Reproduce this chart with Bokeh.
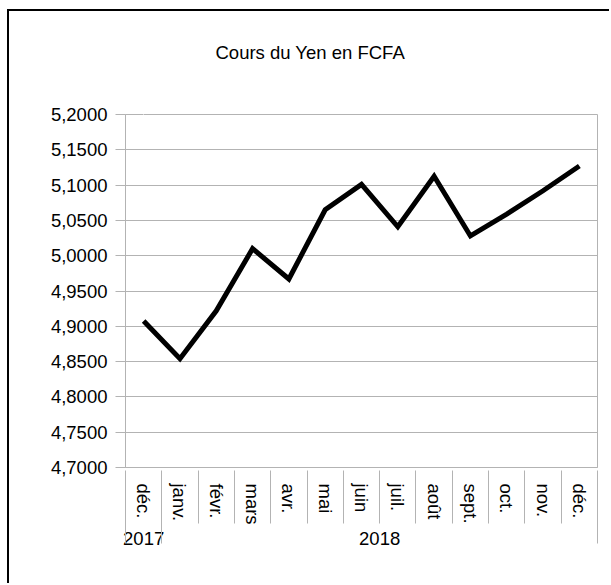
from bokeh.plotting import figure
from bokeh.models import (Range1d, FixedTicker, LinearAxis,
                          CustomJSTickFormatter, ColumnDataSource)
from bokeh.embed import file_html
from bokeh.resources import INLINE

TITLE = "Cours du Yen en FCFA"
MONTHS = ["déc.", "janv.", "févr.", "mars", "avr.", "mai", "juin",
          "juil.", "août", "sept.", "oct.", "nov.", "déc."]
YEARS = ["2017"] + ["2018"] * 12
VALUES = [4.9075, 4.8540, 4.9220, 5.0100, 4.9670, 5.0650, 5.1010,
          5.0410, 5.1125, 5.0280, 5.0590, 5.0920, 5.1270]
Y_TICKS = [4.70, 4.75, 4.80, 4.85, 4.90, 4.95, 5.00, 5.05, 5.10, 5.15, 5.20]

FONT = "Liberation Sans"
FS = "18.5px"
GRAY = "#b3b3b3"

n = len(MONTHS)
centers = [i + 0.5 for i in range(n)]

# year groups
year_names, year_bounds = [], [0]
for i, y in enumerate(YEARS):
    if i > 0 and y != YEARS[i - 1]:
        year_bounds.append(i)
    if not year_names or year_names[-1] != y:
        year_names.append(y)
year_bounds.append(n)
year_centers = [(year_bounds[k] + year_bounds[k + 1]) / 2 for k in range(len(year_names))]

p = figure(width=602, height=574,
           x_range=Range1d(0, n),
           y_range=Range1d(Y_TICKS[0], Y_TICKS[-1]),
           output_backend="svg", toolbar_location=None,
           min_border_left=116, min_border_right=14,
           min_border_top=103, min_border_bottom=118,
           title=TITLE)
p.margin = (11, 0, 0, 9)
p.styles = {"box-shadow": "-2px -2px 0 0 #000"}

xa = p.below[0]
ya = p.left[0]

p.background_fill_color = "white"
p.border_fill_color = "white"
p.outline_line_color = GRAY
p.outline_line_width = 1

# title
p.title.text_font = FONT
p.title.text_font_size = FS
p.title.text_font_style = "normal"
p.title.text_color = "black"
p.title.align = "left"
p.title.offset = 90
p.title.standoff = 0

# invisible spacer between frame and title (white tick on white background)
spacer = LinearAxis(ticker=FixedTicker(ticks=[centers[0]]),
                    formatter=CustomJSTickFormatter(code="return '';"))
spacer.axis_line_color = None
spacer.major_tick_line_color = "white"
spacer.minor_tick_line_color = None
spacer.major_tick_in = 0
spacer.major_tick_out = 52
spacer.minor_tick_in = 0
spacer.minor_tick_out = 0
spacer.major_label_standoff = 0
spacer.major_label_text_color = None
p.add_layout(spacer, "above")

# y axis
ya.ticker = FixedTicker(ticks=Y_TICKS)
ya.formatter = CustomJSTickFormatter(code="return tick.toFixed(4).replace('.', ',');")
ya.major_tick_out = 10
ya.major_tick_in = 0
ya.minor_tick_line_color = None
ya.major_tick_line_color = GRAY
ya.axis_line_color = GRAY
ya.major_label_standoff = 8
ya.major_label_text_font = FONT
ya.major_label_text_font_size = FS
ya.major_label_text_color = "black"

p.ygrid.grid_line_color = GRAY
p.xgrid.visible = False

# x axis: month labels
xa.ticker = FixedTicker(ticks=centers)
xa.formatter = CustomJSTickFormatter(args=dict(labels=MONTHS),
                                     code="return labels[Math.floor(tick)];")
xa.major_tick_line_color = None
xa.major_tick_out = 0
xa.major_tick_in = 0
xa.minor_tick_line_color = None
xa.axis_line_color = GRAY
xa.major_label_orientation = "vertical"
xa.major_label_standoff = 16
xa.major_label_text_font = FONT
xa.major_label_text_font_size = FS
xa.major_label_text_color = "black"

S1 = 57   # height taken by the month axis
S2 = 25   # height taken by the year axis

# year labels + short separators between all categories
year_axis = LinearAxis(ticker=FixedTicker(ticks=year_centers, minor_ticks=list(range(n + 1))),
                       formatter=CustomJSTickFormatter(
                           args=dict(pos=year_centers, labels=year_names),
                           code="return labels[pos.indexOf(tick)];"))
year_axis.axis_line_color = None
year_axis.major_tick_line_color = None
year_axis.major_tick_out = 0
year_axis.major_tick_in = 0
year_axis.minor_tick_line_color = GRAY
year_axis.minor_tick_in = S1
year_axis.minor_tick_out = 53 - S1
year_axis.major_label_standoff = 4
year_axis.major_label_text_font = FONT
year_axis.major_label_text_font_size = FS
year_axis.major_label_text_color = "black"
p.add_layout(year_axis, "below")

# longer separators between years
long_axis = LinearAxis(ticker=FixedTicker(ticks=[], minor_ticks=year_bounds),
                       formatter=CustomJSTickFormatter(code="return '';"))
long_axis.axis_line_color = None
long_axis.major_tick_line_color = None
long_axis.major_tick_out = 0
long_axis.major_tick_in = 0
long_axis.minor_tick_line_color = GRAY
long_axis.minor_tick_in = S1 + S2 - 48
long_axis.minor_tick_out = 78 - S1 - S2
long_axis.major_label_standoff = 0
p.add_layout(long_axis, "below")

src = ColumnDataSource(dict(x=centers, y=VALUES))
p.line(x="x", y="y", source=src, line_color="black", line_width=5,
       line_join="miter", line_cap="butt")

open("out.html", "w").write(file_html(p, INLINE))
